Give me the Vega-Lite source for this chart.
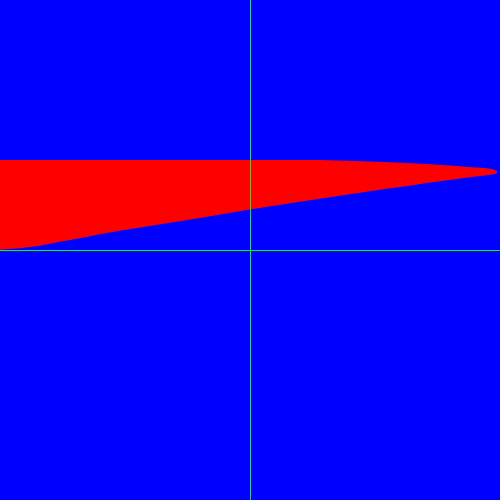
{
  "$schema": "https://vega.github.io/schema/vega-lite/v6.json",
  "description": "Red region on blue with green axes",
  "autosize": {"type": "fit", "contains": "padding"},
  "width": 500,
  "height": 500,
  "padding": 0,
  "background": "#0000ff",
  "config": {"view": {"stroke": null, "fill": "#0000ff"}},
  "layer": [
    {
      "data": {
        "values": [
          {"x": -2.0, "top": 0.72, "bottom": 0.0024},
          {"x": -1.84, "top": 0.72, "bottom": 0.0136},
          {"x": -1.68, "top": 0.72, "bottom": 0.0344},
          {"x": -1.52, "top": 0.72, "bottom": 0.0664},
          {"x": -1.36, "top": 0.72, "bottom": 0.0936},
          {"x": -1.2, "top": 0.72, "bottom": 0.1256},
          {"x": -1.04, "top": 0.72, "bottom": 0.1544},
          {"x": -0.8, "top": 0.72, "bottom": 0.192},
          {"x": -0.4, "top": 0.72, "bottom": 0.256},
          {"x": 0.0, "top": 0.72, "bottom": 0.324},
          {"x": 0.4, "top": 0.72, "bottom": 0.386},
          {"x": 0.56, "top": 0.72, "bottom": 0.41},
          {"x": 0.84, "top": 0.712, "bottom": 0.452},
          {"x": 1.08, "top": 0.704, "bottom": 0.488},
          {"x": 1.264, "top": 0.696, "bottom": 0.512},
          {"x": 1.416, "top": 0.688, "bottom": 0.536},
          {"x": 1.536, "top": 0.68, "bottom": 0.552},
          {"x": 1.656, "top": 0.672, "bottom": 0.568},
          {"x": 1.744, "top": 0.664, "bottom": 0.58},
          {"x": 1.88, "top": 0.656, "bottom": 0.596},
          {"x": 1.936, "top": 0.648, "bottom": 0.604},
          {"x": 1.976, "top": 0.632, "bottom": 0.612}
        ]
      },
      "mark": {"type": "area", "color": "#ff0000", "interpolate": "linear", "clip": true},
      "encoding": {
        "x": {"field": "x", "type": "quantitative", "axis": null,
              "scale": {"domain": [-2, 2], "nice": false, "zero": false}},
        "y": {"field": "top", "type": "quantitative", "axis": null,
              "scale": {"domain": [-2, 2], "nice": false, "zero": false}},
        "y2": {"field": "bottom"}
      }
    },
    {
      "data": {
        "values": [
          {"x1": 0, "x2": 0.008, "y1": -2, "y2": 2},
          {"x1": -2, "x2": 2, "y1": -0.008, "y2": 0}
        ]
      },
      "mark": {"type": "rect", "color": "#00ff00"},
      "encoding": {
        "x": {"field": "x1", "type": "quantitative"},
        "x2": {"field": "x2"},
        "y": {"field": "y1", "type": "quantitative"},
        "y2": {"field": "y2"}
      }
    }
  ]
}
